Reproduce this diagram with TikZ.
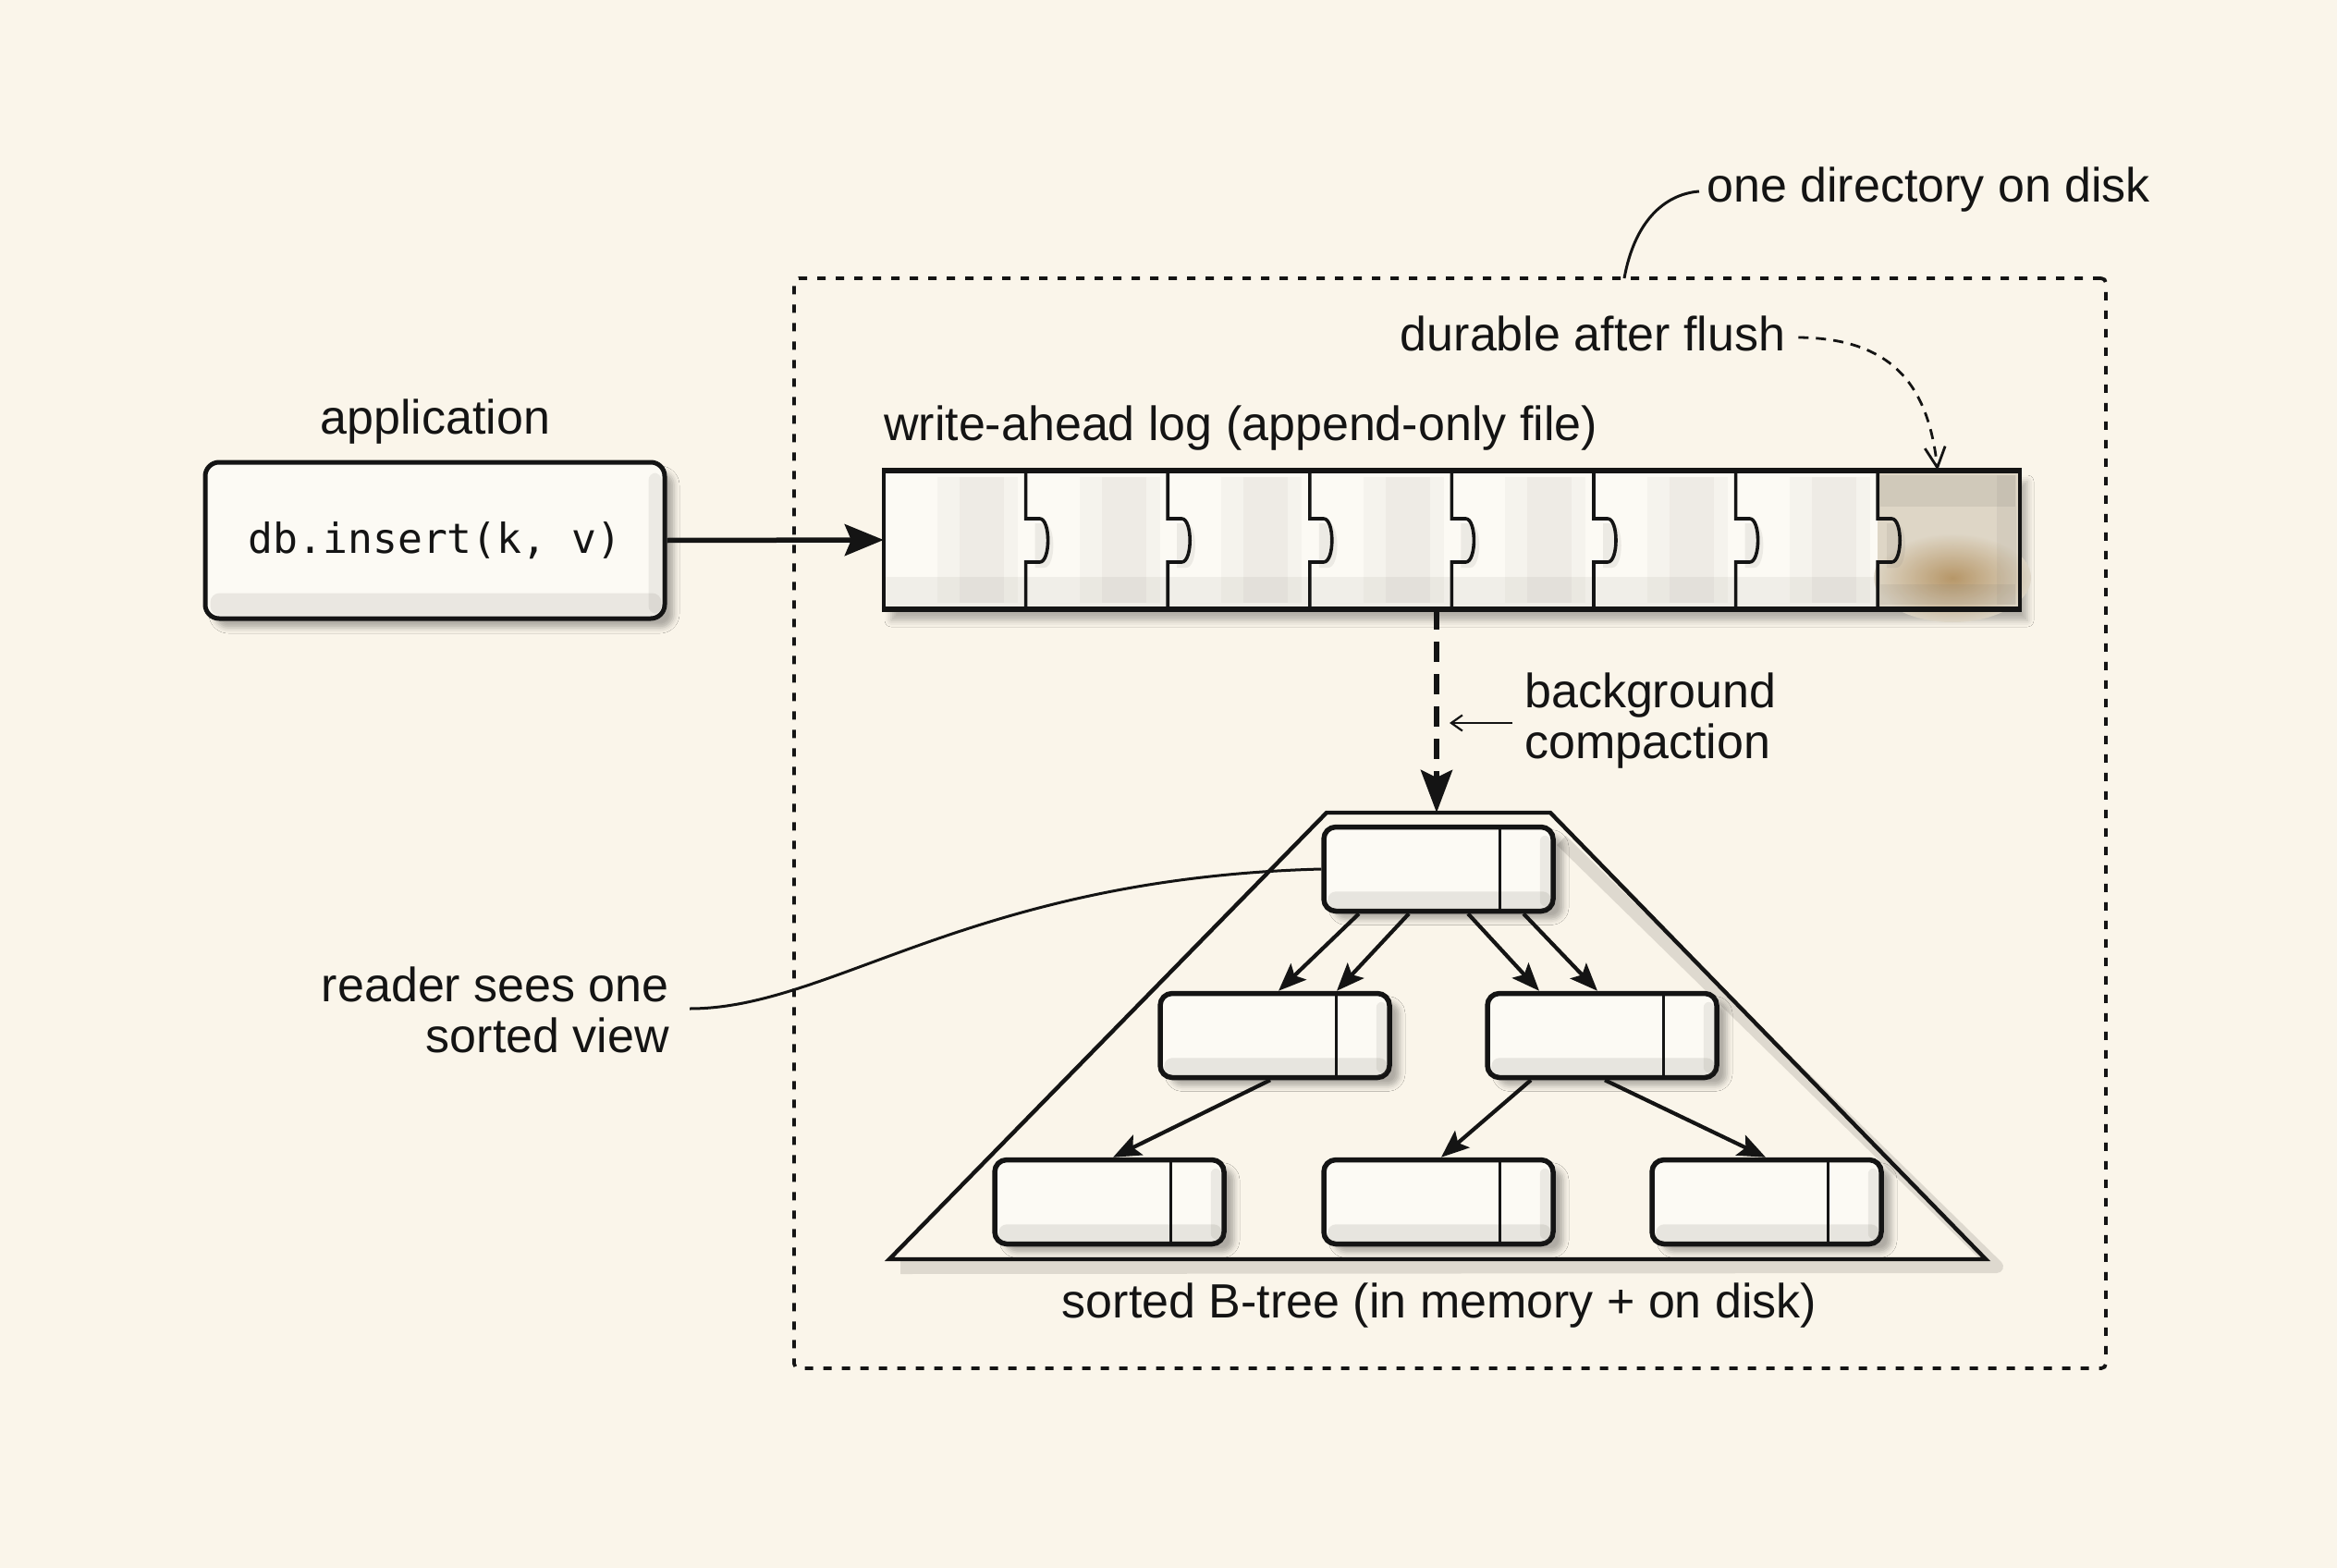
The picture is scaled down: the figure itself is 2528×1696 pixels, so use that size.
\documentclass[tikz,border=0pt]{standalone}
\usepackage{fontspec}
\setmainfont{Liberation Sans}
\newfontfamily\codefont{DejaVu Sans Mono}
\usetikzlibrary{arrows.meta,shadows.blur,calc}
\definecolor{paper}{HTML}{FAF5EA}
\definecolor{ink}{HTML}{141414}
\definecolor{boxfill}{HTML}{FCFAF4}
\definecolor{wash}{HTML}{7F7A72}
\definecolor{tanfill}{HTML}{DED6C6}
\definecolor{stain}{HTML}{B08C58}
\newcommand\treebox[3]{%
  \node[tnode] (#1) at (#2,#3) {};
  \fill[wash, opacity=.16, rounded corners=9pt] ($(#1.south west)+(7,-24)$) rectangle ($(#1.south east)+(-5,-5)$);
  \fill[wash, opacity=.13, rounded corners=6pt] ($(#1.north east)+(-17,12)$) rectangle ($(#1.south east)+(-6,-8)$);
  \draw[ink, line width=3pt] ($(#1.north east)+(-60,2)$) -- ($(#1.south east)+(-60,-2)$);
}
\begin{document}
\begin{tikzpicture}[x=1pt,y=-1pt,
  lbl/.style={font=\fontsize{52}{55}\selectfont, inner sep=0pt, text=ink},
  tnode/.style={draw=ink, line width=5.5pt, rounded corners=13pt, fill=boxfill,
    minimum width=248pt, minimum height=91pt, inner sep=0pt,
    blur shadow={shadow xshift=11pt, shadow yshift=-9pt, shadow blur radius=6pt, shadow opacity=30}},
  appbox/.style={draw=ink, line width=5pt, rounded corners=15pt, fill=boxfill,
    minimum width=497pt, minimum height=169pt, inner sep=0pt, text=ink,
    blur shadow={shadow xshift=10pt, shadow yshift=-10pt, shadow blur radius=6pt, shadow opacity=30}},
  treearrow/.style={draw=ink, line width=4.2pt, -{Stealth[length=30pt,width=24pt,inset=6pt]}},
  thinline/.style={draw=ink, line width=3pt},
]
\fill[paper] (0,0) rectangle (2528,1696);
\useasboundingbox (0,0) rectangle (2528,1696);

% directory frame
\node[draw=ink, line width=3.8pt, dash pattern=on 9pt off 11pt, rounded corners=5pt,
  minimum width=1419pt, minimum height=1179pt, inner sep=0pt] (dir) at (1568.5,890.5) {};
\coordinate (dirtop) at (1757,301);
\node[lbl, anchor=west] (dirlbl) at (1846,205) {one directory on disk};
\draw[thinline] (dirlbl.west) ++(-8,2) coordinate (dirlead)
  .. controls (1800,210) and (1768,240) .. (dirtop);

% application
\node[lbl] (applbl) at (471,456) {application};
\node[appbox] (app) at (470.5,584.5) {\codefont\fontsize{44.7}{50}\selectfont db.insert(k, v)};
\fill[wash, opacity=.14, rounded corners=10pt] ($(app.south west)+(8,-30)$) rectangle ($(app.south east)+(-6,-6)$);
\fill[wash, opacity=.12, rounded corners=8pt] ($(app.north east)+(-20,14)$) rectangle ($(app.south east)+(-6,-8)$);

% write-ahead log
\node[lbl, anchor=west] (wallbl) at (956,463) {write-ahead log (append-only file)};
\node[fill=boxfill, minimum width=1229pt, minimum height=150pt, inner sep=0pt,
  blur shadow={shadow xshift=8pt, shadow yshift=-12pt, shadow blur radius=7pt, shadow opacity=28}] (wal) at (1570.5,584) {};
\foreach \i in {0,...,6} {
  \pgfmathsetmacro\xa{956+153.6*\i}
  \fill[wash, opacity=.05] (\xa+58,516) rectangle (\xa+145,652);
  \fill[wash, opacity=.06] (\xa+82,516) rectangle (\xa+130,652);
}
\fill[wash, opacity=.09] (958,624) rectangle (2183,656);
\fill[tanfill] (2031.2,511) rectangle (2183,657);
\fill[wash, opacity=.14] (2034,514) rectangle (2180,548);
\shade[inner color=stain, outer color=tanfill, opacity=.85] (2112,625) ellipse (85 and 48);
\fill[wash, opacity=.12] (2034,632) rectangle (2180,654);
\fill[wash, opacity=.10] (2160,514) rectangle (2181,654);
\foreach \i in {1,...,7} {
  \pgfmathsetmacro\xd{956+153.6*\i}
  \fill[wash, opacity=.12] (\xd+10,566) -- (\xd+20,566) .. controls (\xd+33,566) and (\xd+33,614) .. (\xd+20,614) -- (\xd+10,614) -- cycle;
  \draw[ink, line width=3.6pt] (\xd,510) -- (\xd,561) -- (\xd+15,561)
    .. controls (\xd+27,561) and (\xd+27,608) .. (\xd+15,608) -- (\xd,608) -- (\xd,658);
}
\draw[ink, line width=3.8pt] (wal.north west) -- (wal.south west);
\draw[ink, line width=3.8pt] (wal.north east) -- (wal.south east);
\draw[ink, line width=6pt] ($(wal.north west)+(-1.5,0)$) -- ($(wal.north east)+(1.5,0)$);
\draw[ink, line width=6pt] ($(wal.south west)+(-1.5,0)$) -- ($(wal.south east)+(1.5,0)$);

\draw[ink, line width=5.5pt, -{Stealth[length=42pt,width=34pt,inset=7pt]}] (app.east) -- (wal.west);

% durable after flush
\node[lbl] (durlbl) at (1723,361) {durable after flush};
\draw[ink, line width=2.8pt, dash pattern=on 11pt off 8pt, -{Straight Barb[length=22pt,width=22pt,line width=2.8pt]}]
  ($(durlbl.east)+(14,4)$) .. controls (2050,366) and (2086,420) .. ([xshift=525.5pt]wal.north);

% B-tree trapezoid
\coordinate (tz1) at (1435,879);
\coordinate (tz2) at (1677,879);
\coordinate (tz3) at (2148,1362);
\coordinate (tz4) at (962,1362);
\draw[wash, opacity=.22, line width=14pt, line join=round] ($(tz2)+(12,30)$) -- ($(tz3)+(12,8)$) -- ($(tz4)+(12,9)$);
\draw[ink, line width=4.4pt, line join=miter] (tz1) -- (tz2) -- (tz3) -- (tz4) -- cycle;

% compaction arrow
\draw[ink, line width=6pt, dash pattern=on 22pt off 13pt, -{Stealth[length=46pt,width=34pt,inset=8pt]}]
  ([xshift=-16.5pt]wal.south) -- (1554,879);
\node[lbl, anchor=west, align=left] (complbl) at (1649,780) {background\\compaction};
\draw[ink, line width=2.2pt, -{Straight Barb[length=12pt,width=17pt,line width=2.2pt]}] (1636,782) -- (1568,782);

% tree nodes
\treebox{root}{1556}{940}
\treebox{ml}{1379}{1120}
\treebox{mr}{1733}{1120}
\treebox{bl}{1200}{1300}
\treebox{bm}{1556}{1300}
\treebox{br}{1911}{1300}

\draw[treearrow] ([xshift=-86pt]root.south) -- ([xshift=4pt]ml.north);
\draw[treearrow] ([xshift=-32pt]root.south) -- ([xshift=67pt]ml.north);
\draw[treearrow] ([xshift=32pt]root.south) -- ([xshift=-68pt]mr.north);
\draw[treearrow] ([xshift=92pt]root.south) -- ([xshift=-5pt]mr.north);
\draw[treearrow] ([xshift=-5pt]ml.south) -- ([xshift=4pt]bl.north);
\draw[treearrow] ([xshift=-77pt]mr.south) -- ([xshift=3pt]bm.north);
\draw[treearrow] ([xshift=3pt]mr.south) -- ([xshift=-1pt]br.north);

\node[lbl] (treelbl) at (1557,1412) {sorted B-tree (in memory + on disk)};

% reader
\node[lbl, anchor=east, align=right] (readlbl) at (724,1092) {reader sees one\\sorted view};
\draw[thinline] (746,1091) coordinate (readstart) .. controls (900,1091) and (1050,950) .. (root.west);
\end{tikzpicture}
\end{document}
